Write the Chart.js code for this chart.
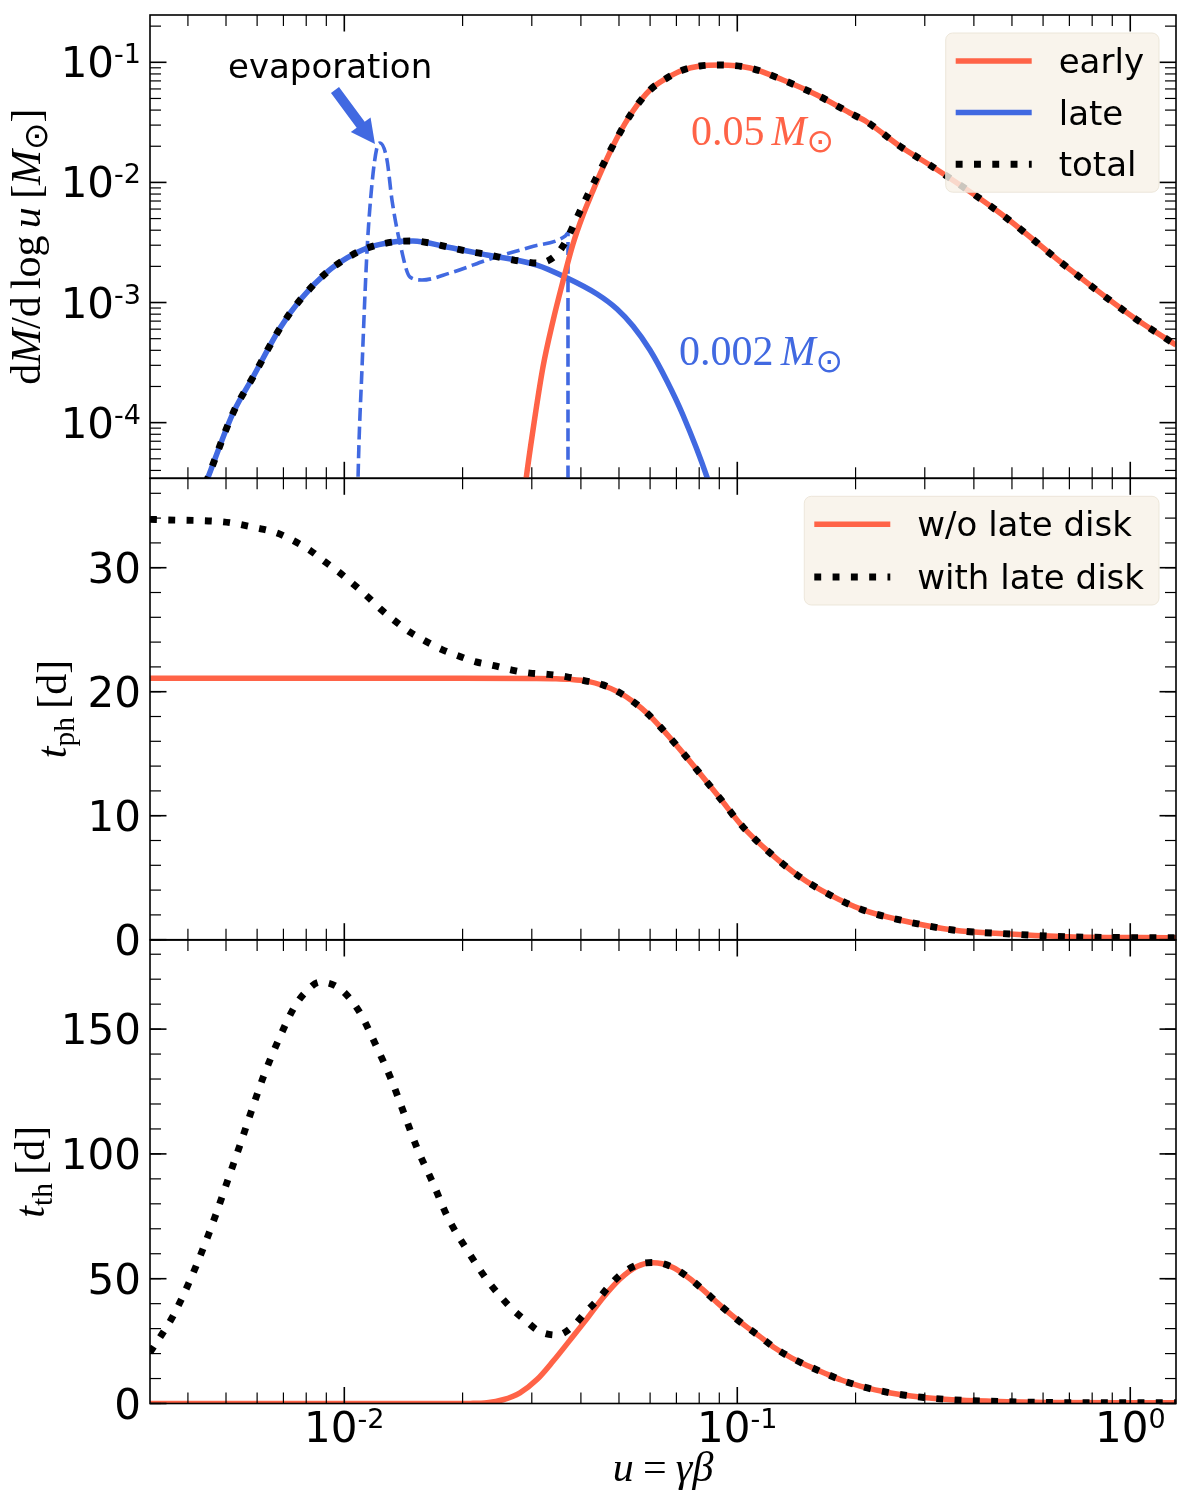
<!DOCTYPE html>
<html>
<head>
<meta charset="utf-8">
<title>Ejecta velocity distribution and timescales</title>
<script src="https://cdn.jsdelivr.net/npm/chart.js@4.4.1/dist/chart.umd.min.js"></script>
<style>
html, body { margin:0; padding:0; background:#ffffff; }
#wrap { position:relative; width:1200px; height:1500px; overflow:hidden; background:#ffffff; }
#wrap canvas { position:absolute; left:0; top:0; }
</style>
</head>
<body>
<div id="wrap">
<canvas id="cTh" width="1200" height="1500"></canvas>
<canvas id="cPh" width="1200" height="1500"></canvas>
<canvas id="cDM" width="1200" height="1500"></canvas>
</div>
<script>
// ---------------- data ----------------
// shared x axis: u = gamma*beta
const uMin = 0.003203, uMax = 1.3074;
const xMajorTicks = [0.01, 0.1, 1];
const xTickExps = ['-2', '-1', '0'];

// panel 1: dM/dlog u [Msun]
const dmMin = 3.44e-5, dmMax = 0.2476;
const dmMajorTicks = [1e-4, 1e-3, 1e-2, 1e-1];
const dmTickExps = ['-4', '-3', '-2', '-1'];

const earlyU  = [0.02782,0.02899,0.03021,0.03203,0.03396,0.03602,0.03819,0.0405,0.04269,0.04473,0.04942,0.05427,0.05995,0.06622,0.07273,0.08038,0.09038,0.10772,0.1307,0.1595,0.19357,0.2138,0.2594,0.31477,0.4661,0.6901,1.016,1.3074];
const earlyDM = [1.05e-5,3.33e-5,8.68e-5,2.9e-4,7.01e-4,1.51e-3,3.07e-3,5.35e-3,8.16e-3,0.01174,0.02343,0.0393,0.05879,0.07401,0.08627,0.09316,0.09495,0.08965,0.07122,0.05341,0.03783,0.03184,0.0200,0.01343,0.00556,0.00197,7.57e-4,4.43e-4];

const lateU  = [0.004269,0.004473,0.005209,0.005858,0.006863,0.007716,0.009036,0.01016,0.011428,0.013298,0.014952,0.018248,0.023072,0.030918,0.036874,0.043954,0.049418,0.05427,0.05995,0.06622,0.07273,0.08374,0.08723];
const lateDM = [2.27e-5,3.33e-5,1.2e-4,2.4e-4,6.13e-4,1.05e-3,1.79e-3,2.35e-3,2.84e-3,3.19e-3,3.25e-3,2.9e-3,2.49e-3,2.05e-3,1.6e-3,1.177e-3,8.83e-4,6.37e-4,4.02e-4,2.22e-4,1.157e-4,3.52e-5,2.27e-5];

const evapU  = [0.010646,0.010836,0.011096,0.011428,0.011767,0.012117,0.012331,0.012842,0.013222,0.013855,0.014692,0.015766,0.018577,0.0239,0.029676,0.0365,0.037087,0.037087];
const evapDM = [1e-6,3.33e-5,2.9e-4,2.74e-3,9.89e-3,0.0197,0.0213,0.01537,0.00714,0.00313,0.00163,0.00154,0.00176,0.00235,0.00289,0.00358,0.00379,1e-6];

const totalU  = [0.004269,0.004473,0.005209,0.005858,0.006863,0.007716,0.009036,0.01016,0.011428,0.013298,0.014952,0.016522,0.018358,0.020518,0.022803,0.025338,0.027989,0.031104,0.034364,0.036654,0.038418,0.040266,0.042192,0.04473,0.04942,0.05427,0.05995,0.06622,0.07273,0.08038,0.09038,0.10772,0.1307,0.1595,0.19357,0.2138,0.2594,0.31477,0.4661,0.6901,1.016,1.3074];
const totalDM = [2.27e-5,3.33e-5,1.2e-4,2.4e-4,6.13e-4,1.05e-3,1.79e-3,2.35e-3,2.84e-3,3.19e-3,3.25e-3,3.13e-3,2.9e-3,2.68e-3,2.53e-3,2.35e-3,2.215e-3,2.13e-3,2.44e-3,3.25e-3,4.5e-3,6.24e-3,8.6e-3,0.0125,0.02343,0.0393,0.05879,0.07401,0.08627,0.09316,0.09495,0.08965,0.07122,0.05341,0.03783,0.03184,0.0200,0.01343,0.00556,0.00197,7.57e-4,4.43e-4];

// panel 2: photon diffusion time t_ph [d]
const phMin = 0, phMax = 37.21;
const phMajorTicks = [0, 10, 20, 30];
const phNoLateU = [0.003203,0.01,0.02,0.03,0.03457,0.03753,0.04146,0.04553,0.05,0.0546,0.05925,0.06394,0.07147,0.08038,0.09038,0.1034,0.1211,0.1444,0.17215,0.2088,0.2594,0.3539,0.49416,0.6901,1.3074];
const phNoLate  = [21.08,21.08,21.08,21.07,21.05,21.0,20.85,20.5,19.95,19.15,18.2,17.1,15.35,13.4,11.4,9.09,7.0,5.06,3.61,2.4,1.59,0.78,0.46,0.24,0.15];
const phLateU = [0.003203,0.003539,0.004912,0.005997,0.006744,0.007405,0.008178,0.008824,0.009638,0.010522,0.011428,0.012331,0.013455,0.014692,0.016045,0.017725,0.019466,0.02163,0.02404,0.026706,0.029676,0.032978,0.036874,0.040732,0.045531,0.05,0.0546,0.05925,0.06394,0.07147,0.08038,0.09038,0.1034,0.1211,0.1444,0.17215,0.2088,0.2594,0.3539,0.49416,0.6901,1.3074];
const phLate  = [33.9,33.85,33.7,33.2,32.8,32.2,31.4,30.6,29.7,28.7,27.7,26.7,25.7,24.8,24.1,23.4,22.9,22.4,22.1,21.75,21.5,21.4,21.2,20.9,20.55,19.95,19.15,18.2,17.1,15.35,13.4,11.4,9.09,7.0,5.06,3.61,2.4,1.59,0.78,0.46,0.24,0.15];

// panel 3: thermalization time t_th [d]
const thMin = 0, thMax = 185.7;
const thMajorTicks = [0, 50, 100, 150];
const thNoLateU = [0.003203,0.0175,0.02092,0.023072,0.025338,0.027989,0.030918,0.033963,0.037526,0.041461,0.045531,0.050303,0.05556,0.061011,0.06819,0.07533,0.082284,0.089327,0.09694,0.10585,0.1149,0.1247,0.13776,0.1522,0.16816,0.18469,0.2064,0.2321,0.2594,0.29854,0.3518,0.4422,0.61745,0.9414,1.3074];
const thNoLate  = [0,0,0.05,0.3,1.5,4.3,9.6,16.9,25.4,34.0,42.4,49.9,54.9,56.4,54.7,50.3,45.2,40.1,35.3,30.6,26.5,22.2,18.2,14.9,11.9,9.3,6.9,5.0,3.6,2.4,1.5,0.9,0.4,0.3,0.3];
const thLateU = [0.003203,0.003457,0.003665,0.004025,0.00437,0.004716,0.005058,0.005428,0.005823,0.006248,0.006783,0.007447,0.007943,0.008669,0.009581,0.010339,0.01103,0.012117,0.013222,0.014266,0.0154,0.016814,0.018358,0.020518,0.023072,0.024609,0.026553,0.02882,0.031284,0.03477,0.038189,0.040977,0.044209,0.047434,0.05119,0.05654,0.0617,0.06819,0.07533,0.082284,0.089327,0.09694,0.10585,0.1149,0.1247,0.13776,0.1522,0.16816,0.18469,0.2064,0.2321,0.2594,0.29854,0.3518,0.4422,0.61745,0.9414,1.3074];
const thLate  = [20.5,28.4,35.0,48.4,62.0,75.9,89.7,103.6,117.9,131.6,145.2,158.6,164.6,168.8,167.0,162.2,155.8,142.5,129.1,115.2,101.4,88.3,74.4,61.6,49.5,44.1,38.3,33.4,29.0,27.4,31.0,36.3,41.7,47.4,52.4,55.9,56.5,54.7,50.3,45.2,40.1,35.3,30.6,26.5,22.2,18.2,14.9,11.9,9.3,6.9,5.0,3.6,2.4,1.5,0.9,0.4,0.3,0.3];

// annotation anchors (data coordinates of panel 1)
const evapLabelAt = { u: 0.005058, v: 0.0740 };
const arrowTailAt = { u: 0.009469, v: 0.05879 };
const arrowTipAt  = { u: 0.011968, v: 0.02088 };
const earlyMassAt = { u: 0.07623, v: 0.02048 };
const lateMassAt  = { u: 0.07107, v: 3.017e-4 };

// ---------------- style ----------------
const RED = '#ff6347', BLUE = '#4169e1', BLACK = '#000000';
const SANS = '"DejaVu Sans", "Liberation Sans", sans-serif';
const SERIF = '"Liberation Serif", "DejaVu Serif", serif';
const TICK_FONT = 42, SUP_FONT = 27, LEG_FONT = 34, MATH_FONT = 42;
const SOLID_LW = 5.5, DOT_LW = 6.9, DOT_DASH = [6.9, 11.4], DASH_LW = 3.6, DASH_DASH = [13, 5.6];

function pts(us, vs) { return us.map((u, i) => ({ x: u, y: vs[i] })); }
function lineDS(label, data, style) {
  return Object.assign({ label, data, pointRadius: 0, pointHoverRadius: 0, fill: false,
    cubicInterpolationMode: 'monotone', clip: 0, spanGaps: true, borderJoinStyle: 'round' }, style);
}
const solid = c => ({ borderColor: c, borderWidth: SOLID_LW, borderCapStyle: 'butt' });
const dotted = { borderColor: BLACK, borderWidth: DOT_LW, borderDash: DOT_DASH, borderCapStyle: 'butt', borderJoinStyle: 'miter' };
const dashed = c => ({ borderColor: c, borderWidth: DASH_LW, borderDash: DASH_DASH, borderCapStyle: 'butt' });

function logMinors(lo, hi) {
  const out = [];
  for (let e = Math.floor(Math.log10(lo)) - 1; e <= Math.ceil(Math.log10(hi)); e++)
    for (let d = 2; d <= 9; d++) { const v = d * Math.pow(10, e); if (v >= lo && v <= hi) out.push(v); }
  return out;
}
function linMinors(lo, hi, step) {
  const out = [];
  for (let v = Math.ceil(lo / step) * step; v <= hi + 1e-9; v += step) out.push(+v.toFixed(6));
  return out;
}
const xMinorTicks = logMinors(uMin, uMax);

// ---------------- drawing helpers ----------------
function seg(ctx, x1, y1, x2, y2) { ctx.beginPath(); ctx.moveTo(x1, y1); ctx.lineTo(x2, y2); ctx.stroke(); }

function runFont(r, size) {
  const s = r.sub ? size * (r.scale || 0.7) : size;
  return (r.it ? 'italic ' : '') + s.toFixed(1) + 'px ' + (r.sans ? SANS : SERIF);
}
function drawRuns(ctx, runs, size, x, y, align, rot, color) {
  ctx.save();
  ctx.translate(x, y);
  if (rot) ctx.rotate(rot);
  let w = 0;
  runs.forEach(r => {
    if (r.sp !== undefined) { r._w = r.sp * size; }
    else { ctx.font = runFont(r, size); r._w = ctx.measureText(r.t).width; }
    w += r._w;
  });
  let cx = align === 'center' ? -w / 2 : (align === 'right' ? -w : 0);
  ctx.fillStyle = color; ctx.textAlign = 'left'; ctx.textBaseline = 'alphabetic';
  runs.forEach(r => {
    if (r.sp === undefined) { ctx.font = runFont(r, size); ctx.fillText(r.t, cx, r.sub ? size * (r.drop || 0.2) : 0); }
    cx += r._w;
  });
  ctx.restore();
}
function drawPow(ctx, exp, x, y, align) {
  ctx.save();
  ctx.fillStyle = BLACK; ctx.textAlign = 'left'; ctx.textBaseline = 'alphabetic';
  ctx.font = TICK_FONT + 'px ' + SANS; const w1 = ctx.measureText('10').width;
  ctx.font = SUP_FONT + 'px ' + SANS; const w2 = ctx.measureText(exp).width;
  const x0 = align === 'right' ? x - w1 - w2 : x - (w1 + w2) / 2;
  ctx.font = TICK_FONT + 'px ' + SANS; ctx.fillText('10', x0, y);
  ctx.font = SUP_FONT + 'px ' + SANS; ctx.fillText(exp, x0 + w1, y - 14);
  ctx.restore();
}
function drawFrameAndTicks(chart, yMajor, yMinor) {
  const ctx = chart.ctx, a = chart.chartArea, xs = chart.scales.x, ys = chart.scales.y;
  const MAJ = 16.5, MIN = 11;
  ctx.save();
  ctx.strokeStyle = BLACK; ctx.lineCap = 'butt';
  const doX = (vals, len, lw) => {
    ctx.lineWidth = lw;
    vals.forEach(v => { const p = xs.getPixelForValue(v); if (p < a.left - 0.5 || p > a.right + 0.5) return;
      seg(ctx, p, a.top, p, a.top + len); seg(ctx, p, a.bottom, p, a.bottom - len); });
  };
  const doY = (vals, len, lw) => {
    ctx.lineWidth = lw;
    vals.forEach(v => { const p = ys.getPixelForValue(v); if (p < a.top - 0.5 || p > a.bottom + 0.5) return;
      seg(ctx, a.left, p, a.left + len, p); seg(ctx, a.right, p, a.right - len, p); });
  };
  doX(xMinorTicks, MIN, 1.2); doX(xMajorTicks, MAJ, 1.6);
  doY(yMinor, MIN, 1.2); doY(yMajor, MAJ, 1.6);
  ctx.lineWidth = 1.6;
  ctx.strokeRect(a.left, a.top, a.right - a.left, a.bottom - a.top);
  ctx.restore();
}
function drawLegend(chart, items, rowGap) {
  const ctx = chart.ctx, a = chart.chartArea;
  ctx.save();
  ctx.font = LEG_FONT + 'px ' + SANS;
  const maxW = Math.max(...items.map(it => ctx.measureText(it.label).width));
  const textDX = 113, w = textDX + maxW + 15, h = 28 * 2 + rowGap * (items.length - 1);
  const x = a.right - 17 - w, y = a.top + 18;
  ctx.beginPath();
  ctx.roundRect(x, y, w, h, 7);
  ctx.fillStyle = 'rgba(248,242,232,0.82)';
  ctx.fill();
  ctx.lineWidth = 1; ctx.strokeStyle = 'rgba(235,228,215,0.9)'; ctx.stroke();
  items.forEach((it, i) => {
    const cy = y + 28 + i * rowGap;
    ctx.strokeStyle = it.color; ctx.lineWidth = it.lw; ctx.lineCap = 'butt';
    ctx.setLineDash(it.dash || []);
    seg(ctx, x + 10, cy, x + 86, cy);
    ctx.setLineDash([]);
    ctx.fillStyle = BLACK; ctx.textAlign = 'left'; ctx.textBaseline = 'alphabetic';
    ctx.fillText(it.label, x + textDX, cy + 12);
  });
  ctx.restore();
}
function drawArrow(ctx, sx, sy, tx, ty, color) {
  const dx = tx - sx, dy = ty - sy, L = Math.hypot(dx, dy);
  const ux = dx / L, uy = dy / L, nx = -uy, ny = ux;
  const hl = 24, hw = 12.3, sw = 5;
  const bx = tx - ux * hl, by = ty - uy * hl;
  ctx.save();
  ctx.fillStyle = color;
  ctx.beginPath();
  ctx.moveTo(sx + nx * sw, sy + ny * sw);
  ctx.lineTo(bx + nx * sw, by + ny * sw);
  ctx.lineTo(bx + nx * hw, by + ny * hw);
  ctx.lineTo(tx, ty);
  ctx.lineTo(bx - nx * hw, by - ny * hw);
  ctx.lineTo(bx - nx * sw, by - ny * sw);
  ctx.lineTo(sx - nx * sw, sy - ny * sw);
  ctx.closePath();
  ctx.fill();
  ctx.restore();
}

// ---------------- chart factory ----------------
function makeChart(id, padTop, padBottom, yOpts, datasets, afterDraw) {
  return new Chart(document.getElementById(id), {
    type: 'line',
    data: { datasets },
    options: {
      responsive: false, animation: false, events: [],
      layout: { padding: { left: 150, right: 24, top: padTop, bottom: padBottom } },
      plugins: { legend: { display: false }, tooltip: { enabled: false }, title: { display: false } },
      scales: {
        x: { type: 'logarithmic', min: uMin, max: uMax, bounds: 'data', display: false },
        y: Object.assign({ display: false, bounds: 'data' }, yOpts)
      }
    },
    plugins: [{ id: 'decor_' + id, afterDraw }]
  });
}

const SUN = { t: '\u2299', sub: 1, scale: 0.78, drop: 0.17, sans: 1 };
const dmLabelRuns = [{ t: 'd' }, { t: 'M', it: 1 }, { t: '/' }, { t: 'd' }, { sp: 0.17 }, { t: 'log' }, { sp: 0.17 },
  { t: 'u', it: 1 }, { sp: 0.2 }, { t: '[' }, { t: 'M', it: 1 }, Object.assign({}, SUN), { t: ']' }];
const phLabelRuns = [{ t: 't', it: 1 }, { t: 'ph', sub: 1 }, { sp: 0.2 }, { t: '[d]' }];
const thLabelRuns = [{ t: 't', it: 1 }, { t: 'th', sub: 1 }, { sp: 0.2 }, { t: '[d]' }];
const xLabelRuns = [{ t: 'u', it: 1 }, { sp: 0.22 }, { t: '=' }, { sp: 0.22 }, { t: '\u03b3\u03b2', it: 1 }];

// panel 3 (bottom): thermalization time
makeChart('cTh', 940, 1500 - 1403.5, { type: 'linear', min: thMin, max: thMax }, [
  lineDS('with late disk', pts(thLateU, thLate), dotted),
  lineDS('w/o late disk', pts(thNoLateU, thNoLate), solid(RED))
], chart => {
  const ctx = chart.ctx, a = chart.chartArea, ys = chart.scales.y, xs = chart.scales.x;
  drawFrameAndTicks(chart, thMajorTicks, linMinors(thMin, thMax, 10));
  ctx.save(); ctx.fillStyle = BLACK; ctx.font = TICK_FONT + 'px ' + SANS; ctx.textAlign = 'right'; ctx.textBaseline = 'alphabetic';
  thMajorTicks.forEach(v => ctx.fillText(String(v), a.left - 9, ys.getPixelForValue(v) + 15));
  ctx.restore();
  xMajorTicks.forEach((v, i) => drawPow(ctx, xTickExps[i], xs.getPixelForValue(v), a.bottom + 38.5, 'center'));
  drawRuns(ctx, thLabelRuns, MATH_FONT, 43.5, (a.top + a.bottom) / 2, 'center', -Math.PI / 2, BLACK);
  drawRuns(ctx, xLabelRuns, MATH_FONT, (a.left + a.right) / 2, a.bottom + 77, 'center', 0, BLACK);
});

// panel 2 (middle): photon diffusion time
makeChart('cPh', 478.3, 1500 - 939.7, { type: 'linear', min: phMin, max: phMax }, [
  lineDS('with late disk', pts(phLateU, phLate), dotted),
  lineDS('w/o late disk', pts(phNoLateU, phNoLate), solid(RED))
], chart => {
  const ctx = chart.ctx, a = chart.chartArea, ys = chart.scales.y;
  drawFrameAndTicks(chart, phMajorTicks, linMinors(phMin, phMax, 2));
  ctx.save(); ctx.fillStyle = BLACK; ctx.font = TICK_FONT + 'px ' + SANS; ctx.textAlign = 'right'; ctx.textBaseline = 'alphabetic';
  phMajorTicks.forEach(v => ctx.fillText(String(v), a.left - 9, ys.getPixelForValue(v) + 15));
  ctx.restore();
  drawRuns(ctx, phLabelRuns, MATH_FONT, 65.5, (a.top + a.bottom) / 2, 'center', -Math.PI / 2, BLACK);
  drawLegend(chart, [
    { label: 'w/o late disk', color: RED, lw: SOLID_LW },
    { label: 'with late disk', color: BLACK, lw: DOT_LW, dash: DOT_DASH }
  ], 52.7);
});

// panel 1 (top): mass distribution
makeChart('cDM', 15, 1500 - 478.3, { type: 'logarithmic', min: dmMin, max: dmMax }, [
  lineDS('total', pts(totalU, totalDM), dotted),
  lineDS('early', pts(earlyU, earlyDM), solid(RED)),
  lineDS('late', pts(lateU, lateDM), solid(BLUE)),
  lineDS('late (evaporation)', pts(evapU, evapDM), dashed(BLUE))
], chart => {
  const ctx = chart.ctx, a = chart.chartArea, ys = chart.scales.y, xs = chart.scales.x;
  const P = o => [xs.getPixelForValue(o.u), ys.getPixelForValue(o.v)];
  drawFrameAndTicks(chart, dmMajorTicks, logMinors(dmMin, dmMax));
  dmMajorTicks.forEach((v, i) => drawPow(ctx, dmTickExps[i], a.left - 9, ys.getPixelForValue(v) + 15, 'right'));
  drawRuns(ctx, dmLabelRuns, MATH_FONT, 40, (a.top + a.bottom) / 2, 'center', -Math.PI / 2, BLACK);
  // annotations
  const [ex, ey] = P(evapLabelAt);
  ctx.save(); ctx.fillStyle = BLACK; ctx.font = LEG_FONT + 'px ' + SANS; ctx.textAlign = 'left'; ctx.textBaseline = 'alphabetic';
  ctx.fillText('evaporation', ex, ey); ctx.restore();
  const [sx, sy] = P(arrowTailAt), [tx, ty] = P(arrowTipAt);
  drawArrow(ctx, sx, sy, tx, ty, BLUE);
  const massRuns = num => [{ t: num }, { sp: 0.17 }, { t: 'M', it: 1 }, Object.assign({}, SUN)];
  const [m1x, m1y] = P(earlyMassAt);
  drawRuns(ctx, massRuns('0.05'), MATH_FONT, m1x, m1y, 'left', 0, RED);
  const [m2x, m2y] = P(lateMassAt);
  drawRuns(ctx, massRuns('0.002'), MATH_FONT, m2x, m2y, 'left', 0, BLUE);
  drawLegend(chart, [
    { label: 'early', color: RED, lw: SOLID_LW },
    { label: 'late', color: BLUE, lw: SOLID_LW },
    { label: 'total', color: BLACK, lw: DOT_LW, dash: DOT_DASH }
  ], 51.6);
});
</script>
</body>
</html>
